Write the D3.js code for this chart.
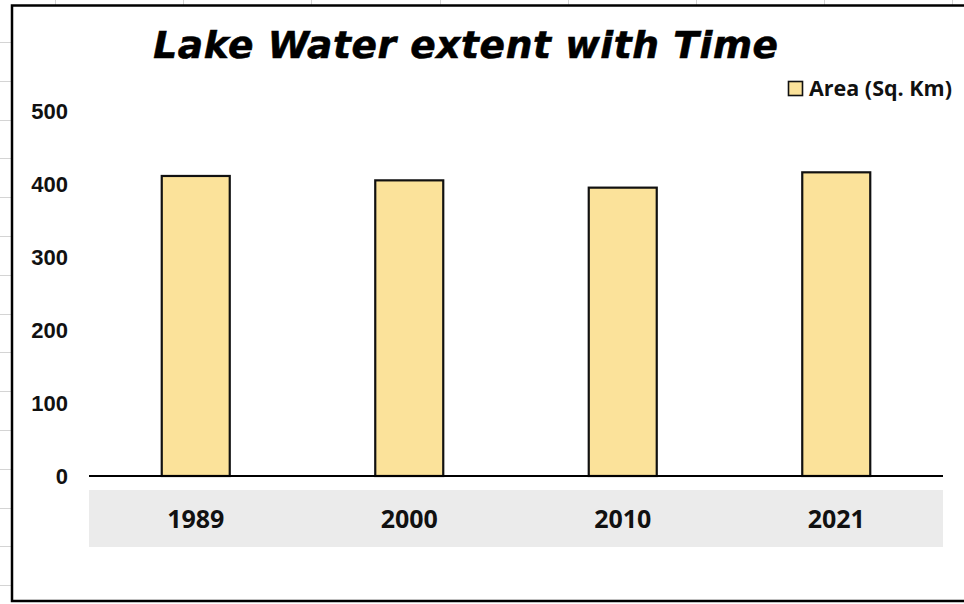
<!DOCTYPE html>
<html>
<head>
<meta charset="utf-8">
<script src="https://cdn.jsdelivr.net/npm/d3@7"></script>
<style>
  html, body { margin: 0; padding: 0; background: #fff; }
  svg { display: block; }
</style>
</head>
<body>
<script>
// Lake surface area per survey year
const years = ["1989", "2000", "2010", "2021"];
const areas = [411, 405, 395, 416];
const yTicks = [0, 100, 200, 300, 400, 500];
const titleText = "Lake Water extent with Time";
const seriesName = "Area (Sq. Km)";

const W = 964, H = 604;
const svg = d3.select("body").append("svg").attr("width", W).attr("height", H);

// worksheet grid peeking out around the chart frame
const sheet = svg.append("g").attr("stroke", "#d4d4d4").attr("stroke-width", 1);
d3.range(14 + 1).forEach(i => {
  const y = Math.round(42 + i * 38.8) + 0.5;
  sheet.append("line").attr("x1", 0).attr("x2", 11).attr("y1", y).attr("y2", y);
});
d3.range(8).forEach(i => {
  const x = Math.round(55 + i * 128.2) + 0.5;
  sheet.append("line").attr("x1", x).attr("x2", x).attr("y1", 0).attr("y2", 5);
});

// chart frame
svg.append("path")
  .attr("d", `M${W + 5},5.5 H12 V601 H${W + 5}`)
  .attr("fill", "none").attr("stroke", "#000").attr("stroke-width", 2.5);

const plot = { left: 89, right: 943, top: 111, bottom: 476 };

const x = d3.scaleBand().domain(years).range([plot.left, plot.right]).paddingInner(0).paddingOuter(0);
const y = d3.scaleLinear().domain([0, 500]).range([plot.bottom, plot.top]);

// category label band
svg.append("rect")
  .attr("x", plot.left).attr("y", 490)
  .attr("width", plot.right - plot.left).attr("height", 57)
  .attr("fill", "#ebebeb");

// bars
const barW = 68;
svg.append("g").selectAll("rect").data(years).join("rect")
  .attr("x", d => x(d) + x.bandwidth() / 2 - barW / 2)
  .attr("y", (d, i) => y(areas[i]))
  .attr("width", barW)
  .attr("height", (d, i) => y(0) - y(areas[i]))
  .attr("fill", "#fbe29a")
  .attr("stroke", "#111").attr("stroke-width", 2.2);

// baseline
svg.append("line")
  .attr("x1", plot.left).attr("x2", plot.right)
  .attr("y1", y(0)).attr("y2", y(0))
  .attr("stroke", "#000").attr("stroke-width", 2.2);

// value axis labels
const yAxis = d3.axisLeft(y).tickValues(yTicks).tickSize(0).tickPadding(0);
const ya = svg.append("g").attr("transform", "translate(68,0)").call(yAxis);
ya.select(".domain").remove();
ya.selectAll("text")
  .attr("font-family", "'Liberation Sans', Arial, sans-serif")
  .attr("font-weight", "bold").attr("font-size", 22).attr("fill", "#111")
  .attr("dy", "0.36em");

// category labels
const xAxis = d3.axisBottom(x).tickSize(0).tickPadding(0);
const xa = svg.append("g").attr("transform", "translate(0,519)").call(xAxis);
xa.select(".domain").remove();
xa.selectAll("text")
  .attr("font-family", "'Open Sans', sans-serif")
  .attr("font-weight", "bold").attr("font-size", 25).attr("fill", "#111")
  .attr("dy", "0.36em");

// title
svg.append("text")
  .attr("x", 466).attr("y", 58)
  .attr("text-anchor", "middle")
  .attr("font-family", "'DejaVu Sans', Verdana, sans-serif")
  .attr("font-weight", "bold").attr("font-style", "italic")
  .attr("font-size", 37.5).attr("letter-spacing", 0.6).attr("fill", "#000")
  .attr("stroke", "#000").attr("stroke-width", 0.6)
  .text(titleText);

// legend
const lg = svg.append("g").attr("transform", "translate(788,81)");
lg.append("rect").attr("x", 0.5).attr("y", 0.5).attr("width", 14).attr("height", 14)
  .attr("fill", "#fbe29a").attr("stroke", "#111").attr("stroke-width", 1.6);
lg.append("text").attr("x", 21).attr("y", 7.5).attr("dy", "0.36em")
  .attr("font-family", "'Open Sans', sans-serif")
  .attr("font-weight", "bold").attr("font-size", 21.5).attr("fill", "#111")
  .text(seriesName);
</script>
</body>
</html>
